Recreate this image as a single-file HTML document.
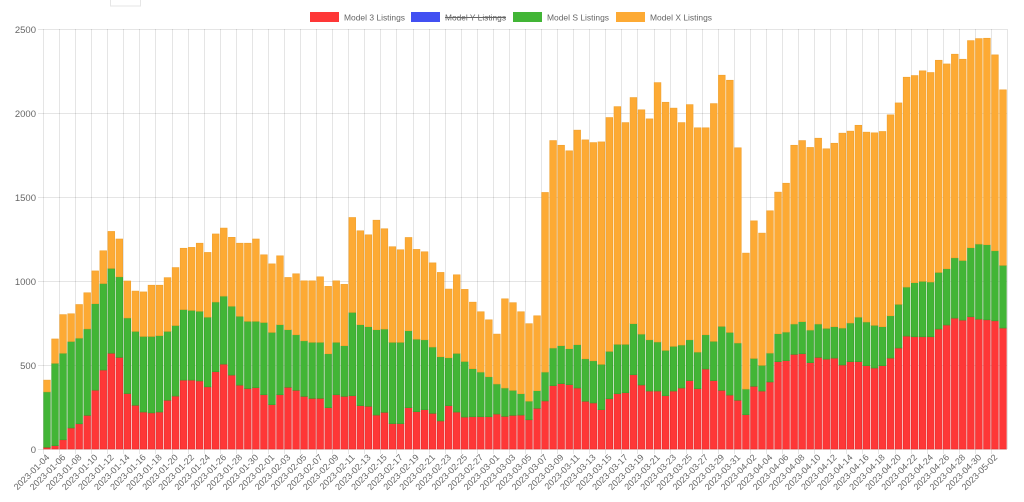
<!DOCTYPE html>
<html><head><meta charset="utf-8"><style>
html,body{margin:0;padding:0;background:#fff;}
svg{display:block;font-family:"Liberation Sans",sans-serif;}
</style></head><body>
<svg id="chart" width="1024" height="502" viewBox="0 0 1024 502">
<rect x="110.5" y="-1" width="30" height="7" fill="none" stroke="#e6e6e6"/>
<g id="grid"></g>
<g id="bars"></g>
<g id="yaxis"></g>
<g id="xaxis"></g>
<g id="legend">
 <g><rect x="310" y="12" width="29" height="10" fill="#fe3737"/><text x="344" y="20.5" font-size="8.5" fill="#666" textLength="61" lengthAdjust="spacingAndGlyphs">Model 3 Listings</text></g>
 <g><rect x="411" y="12" width="29" height="10" fill="#4250f2"/><text x="445" y="20.5" font-size="8.5" fill="#666" textLength="61" lengthAdjust="spacingAndGlyphs">Model Y Listings</text><line x1="445" y1="17.5" x2="506" y2="17.5" stroke="#666" stroke-width="1"/></g>
 <g><rect x="513" y="12" width="29" height="10" fill="#42b536"/><text x="547" y="20.5" font-size="8.5" fill="#666" textLength="62" lengthAdjust="spacingAndGlyphs">Model S Listings</text></g>
 <g><rect x="616" y="12" width="29" height="10" fill="#fdaa34"/><text x="650" y="20.5" font-size="8.5" fill="#666" textLength="62" lengthAdjust="spacingAndGlyphs">Model X Listings</text></g>
</g>
</svg>
<script>
const startDate = "2023-01-04";
const model3 = [10,20,55,125,150,200,350,470,570,545,330,260,220,215,220,290,315,410,410,405,370,460,505,440,380,360,365,323,264,323,367,349,313,301,301,246,323,313,317,258,254,202,218,151,151,246,222,234,212,167,258,220,190,192,192,192,208,194,200,202,174,242,286,377,389,383,363,284,274,234,299,329,335,442,381,345,345,317,345,363,407,359,476,407,349,321,290,204,373,345,399,520,526,563,567,514,545,535,541,500,520,520,496,482,496,541,601,672,668,668,668,714,738,779,767,787,773,769,763,720];
const modelS = [330,490,515,515,510,515,515,515,505,480,450,440,450,455,455,410,420,420,415,415,415,415,405,410,410,400,395,430,430,417,343,331,331,334,334,321,312,302,496,482,474,508,496,484,484,458,432,416,395,382,285,349,331,286,266,238,179,169,149,127,111,105,172,224,226,214,258,253,251,270,282,294,288,304,303,305,292,270,266,256,243,218,204,234,381,373,341,153,166,153,172,166,170,181,191,194,199,183,187,220,230,265,260,254,232,252,260,292,322,330,326,337,335,359,355,411,447,447,417,373];
const modelX = [70,145,230,165,200,215,195,195,220,225,220,240,265,305,300,320,345,365,375,405,385,405,405,410,435,465,490,403,408,410,311,363,357,366,390,401,366,365,565,559,547,652,597,569,551,555,534,524,501,502,409,468,429,396,359,339,297,531,522,488,461,446,1069,1235,1193,1178,1277,1303,1299,1324,1392,1415,1320,1346,1335,1315,1544,1477,1418,1324,1400,1335,1232,1415,1495,1501,1162,809,819,787,847,843,886,1064,1078,1087,1106,1069,1092,1160,1142,1142,1130,1146,1162,1196,1199,1249,1233,1253,1247,1263,1219,1212,1198,1233,1223,1229,1166,1045];
const yTicks = [0,500,1000,1500,2000,2500];

const NS="http://www.w3.org/2000/svg";
const L=43,R=1007,T=29,B=449,YMAX=2500;
const n=model3.length;
const step=(R-L)/n;
function xPos(i){return L+i*step;}
function yPos(v){return B-(v/YMAX)*(B-T);}
function mk(tag,attrs,parent){const e=document.createElementNS(NS,tag);for(const k in attrs)e.setAttribute(k,attrs[k]);parent.appendChild(e);return e;}
function dateLabel(i){const d=new Date(startDate+"T00:00:00Z");d.setUTCDate(d.getUTCDate()+i);return d.toISOString().slice(0,10);}

const grid=document.getElementById('grid'),bars=document.getElementById('bars'),ya=document.getElementById('yaxis'),xa=document.getElementById('xaxis');
yTicks.forEach(v=>{
  const y=Math.round(yPos(v))+0.5;
  const l=mk('line',{x1:L-5,x2:R,y1:y,y2:y,stroke:'rgba(0,0,0,0.1)'},grid);
  
  
  const t=mk('text',{x:L-7,y:y+3.5,'text-anchor':'end','font-size':'9.5',fill:'#666'},ya);
  t.textContent=v;
  
  
});
for(let i=0;i<n;i+=2){
  const x=Math.round(xPos(i))+0.5;
  const l=mk('line',{x1:x,x2:x,y1:T,y2:B+5,stroke:'rgba(0,0,0,0.1)'},grid);
  
  
  const cx=xPos(i)+step/2+3, cy=B+9;
  const t=mk('text',{x:cx,y:cy,'text-anchor':'end','font-size':'9','fill':'#666',transform:`rotate(-45 ${cx} ${cy})`},xa);
  t.textContent=dateLabel(i);
  
  
}
const rl=mk('line',{x1:R+0.5,x2:R+0.5,y1:T,y2:B,stroke:'rgba(0,0,0,0.1)'},grid);



const bw=step*0.84;
const series=[[model3,'#fe3737','#e62a2a','bar-model-3'],[modelS,'#42b536','#38a02d','bar-model-s'],[modelX,'#fdaa34','#f0a02c','bar-model-x']];
for(let i=0;i<n;i++){
  let base=0;
  series.forEach(s=>{
    const v=s[0][i];
    const y0=yPos(base),y1=yPos(base+v);
    const r=mk('rect',{x:xPos(i)+(step-bw)/2,y:y1,width:bw,height:Math.max(0,y0-y1),fill:s[1],stroke:s[2],'stroke-width':'0.6'},bars);
    
    
    base+=v;
  });
}
</script>
</body></html>
